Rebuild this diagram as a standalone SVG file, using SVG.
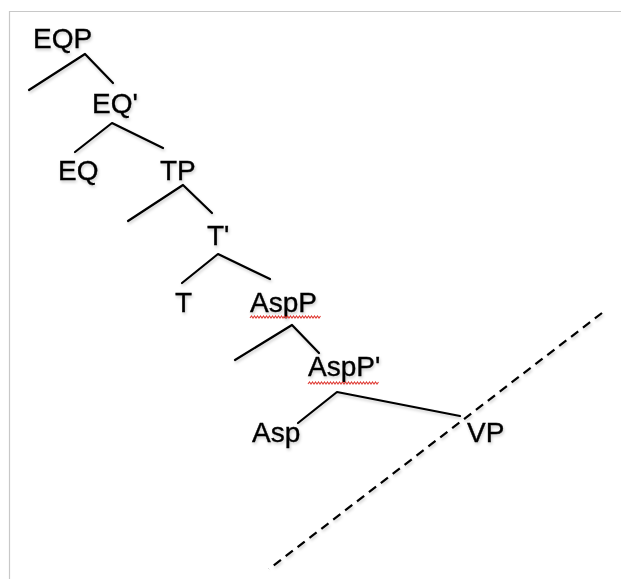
<svg xmlns="http://www.w3.org/2000/svg" width="621" height="579" viewBox="0 0 621 579">
<defs>
<filter id="sh" x="-20%" y="-20%" width="140%" height="140%">
<feDropShadow dx="1" dy="2" stdDeviation="1.5" flood-color="#000" flood-opacity="0.2"/>
</filter>
<style>
.lbl{font-family:"Liberation Sans",Arial,sans-serif;font-size:28px;fill:#000;stroke:#000;stroke-width:0.35}
.br{fill:none;stroke:#000;stroke-width:2.2;stroke-linecap:round;stroke-linejoin:round}
.dash{fill:none;stroke:#000;stroke-width:2.2;stroke-dasharray:9 6}
.sq{fill:none;stroke:#e0403a;stroke-width:1.1}
</style>
</defs>
<rect width="621" height="579" fill="#fff"/>
<path d="M9.5,579 V11.5 H621" fill="none" stroke="#c8c8c8" stroke-width="1.2"/>
<g id="connectors" filter="url(#sh)">
<polyline class="br" points="29,90 85,54 113,83"/>
<polyline class="br" points="75,152 112,123 163,148"/>
<polyline class="br" points="128,221 183,185 212,213"/>
<polyline class="br" points="182,283 218,254 270,279"/>
<polyline class="br" points="235,360 292,325 319,353"/>
<polyline class="br" points="298,423 337,392 460,416"/>
<line class="dash" x1="602" y1="313" x2="269" y2="569"/>
</g>
<g id="EQP" filter="url(#sh)"><text class="lbl" x="33" y="48">EQP</text></g>
<g id="EQbar" filter="url(#sh)"><text class="lbl" x="92" y="113">EQ'</text></g>
<g id="EQ" filter="url(#sh)"><text class="lbl" x="58" y="180">EQ</text></g>
<g id="TP" filter="url(#sh)"><text class="lbl" x="160" y="180">TP</text></g>
<g id="Tbar" filter="url(#sh)"><text class="lbl" x="207" y="245">T'</text></g>
<g id="T" filter="url(#sh)"><text class="lbl" x="175" y="312">T</text></g>
<g id="AspP"><text class="lbl" x="250" y="312" filter="url(#sh)">AspP</text>
<path class="sq" d="M250,318 l1.5,-2 l1.5,2 l1.5,-2 l1.5,2 l1.5,-2 l1.5,2 l1.5,-2 l1.5,2 l1.5,-2 l1.5,2 l1.5,-2 l1.5,2 l1.5,-2 l1.5,2 l1.5,-2 l1.5,2 l1.5,-2 l1.5,2 l1.5,-2 l1.5,2 l1.5,-2 l1.5,2 l1.5,-2 l1.5,2 l1.5,-2 l1.5,2 l1.5,-2 l1.5,2 l1.5,-2 l1.5,2 l1.5,-2 l1.5,2 l1.5,-2 l1.5,2 l1.5,-2 l1.5,2 l1.5,-2 l1.5,2 l1.5,-2 l1.5,2 l1.5,-2 l1.5,2 l1.5,-2 l1.5,2 l1.5,-2 l1.5,2 l1.5,-2"/></g>
<g id="AspPbar"><text class="lbl" x="308" y="376" filter="url(#sh)">AspP'</text>
<path class="sq" d="M308,384 l1.5,-2 l1.5,2 l1.5,-2 l1.5,2 l1.5,-2 l1.5,2 l1.5,-2 l1.5,2 l1.5,-2 l1.5,2 l1.5,-2 l1.5,2 l1.5,-2 l1.5,2 l1.5,-2 l1.5,2 l1.5,-2 l1.5,2 l1.5,-2 l1.5,2 l1.5,-2 l1.5,2 l1.5,-2 l1.5,2 l1.5,-2 l1.5,2 l1.5,-2 l1.5,2 l1.5,-2 l1.5,2 l1.5,-2 l1.5,2 l1.5,-2 l1.5,2 l1.5,-2 l1.5,2 l1.5,-2 l1.5,2 l1.5,-2 l1.5,2 l1.5,-2 l1.5,2 l1.5,-2 l1.5,2 l1.5,-2 l1.5,2 l1.5,-2"/></g>
<g id="Asp" filter="url(#sh)"><text class="lbl" x="252" y="442">Asp</text></g>
<g id="VP" filter="url(#sh)"><text class="lbl" x="467" y="442">VP</text></g>
</svg>
